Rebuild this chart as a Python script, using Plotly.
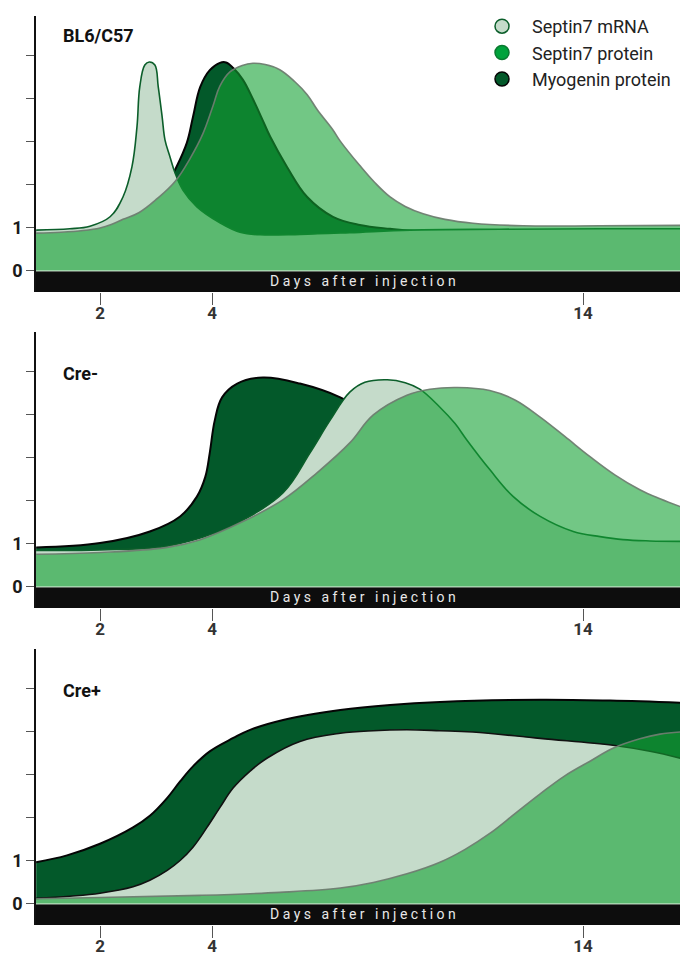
import plotly.graph_objects as go

# ---------------- data (x = timeline position, labelled 2, 4, 14 days) ----------------
tick_pos = [2, 4, 10.625]
tick_text = ["2", "4", "14"]
y_tick_vals = [0, 1, 2, 3, 4, 5]
y_tick_text = ["0", "1", "", "", "", ""]

panel_names = ["BL6/C57", "Cre-", "Cre+"]
series_names = ["Septin7 mRNA", "Septin7 protein", "Myogenin protein"]

# Panel 1: BL6/C57
p1_mrna_x = [0.86, 1.46, 1.82, 2.18, 2.41, 2.57, 2.66, 2.71, 2.80, 2.88, 2.98, 3.04, 3.11, 3.16,
             3.25, 3.34, 3.48, 3.73, 4.14, 4.50, 4.86, 5.57, 6.46, 7.54, 9.14, 10.93, 12.36]
p1_mrna_y = [0.95, 0.98, 1.04, 1.26, 1.72, 2.42, 3.35, 4.28, 4.79, 4.86, 4.79, 4.28, 3.58, 3.05,
             2.65, 2.28, 1.88, 1.49, 1.12, 0.9, 0.84, 0.85, 0.89, 0.95, 0.97, 0.98, 0.98]
p1_myo_x = [0.86, 1.64, 2.36, 2.89, 3.16, 3.34, 3.55, 3.66, 3.79, 3.96, 4.14, 4.25, 4.38, 4.55,
            4.73, 4.89, 5.04, 5.34, 5.70, 6.16, 6.64, 7.18, 7.54, 9.14, 12.36]
p1_myo_y = [0.93, 0.95, 1.1, 1.5, 1.9, 2.35, 2.98, 3.58, 4.28, 4.67, 4.84, 4.85, 4.72, 4.45,
            4.0, 3.55, 3.12, 2.42, 1.72, 1.26, 1.07, 0.98, 0.94, 0.92, 0.92]
p1_prot_x = [0.86, 1.30, 1.70, 2.0, 2.20, 2.41, 2.70, 3.02, 3.34, 3.61, 3.84, 4.02, 4.14, 4.32,
             4.54, 4.73, 4.95, 5.21, 5.48, 5.70, 5.88, 6.16, 6.29, 6.64, 6.91, 7.18, 7.45, 7.77,
             8.16, 8.66, 9.55, 10.93, 12.36]
p1_prot_y = [0.88, 0.9, 0.94, 1.0, 1.08, 1.2, 1.36, 1.68, 2.08, 2.62, 3.2, 3.85, 4.3, 4.63,
             4.78, 4.83, 4.8, 4.68, 4.4, 4.1, 3.75, 3.28, 3.02, 2.45, 2.05, 1.72, 1.5, 1.33,
             1.2, 1.11, 1.05, 1.05, 1.06]

# Panel 2: Cre-
p2_mrna_x = [0.86, 2.0, 3.20, 4.09, 4.55, 5.27, 5.75, 6.11, 6.46, 6.73, 7.13, 7.45, 7.71, 8.07,
             8.34, 8.55, 8.96, 9.38, 9.86, 10.45, 10.93, 11.34, 11.82, 12.36]
p2_mrna_y = [0.85, 0.86, 0.95, 1.27, 1.55, 2.19, 3.12, 3.88, 4.53, 4.76, 4.82, 4.75, 4.6, 4.18,
             3.8, 3.42, 2.73, 2.1, 1.64, 1.29, 1.17, 1.1, 1.07, 1.06]
p2_myo_x = [0.86, 2.0, 2.89, 3.43, 3.73, 3.88, 3.96, 4.05, 4.18, 4.45, 4.91, 5.57, 6.29, 6.82,
            7.36, 8.07, 8.79, 9.68, 10.93, 12.36]
p2_myo_y = [0.92, 1.02, 1.29, 1.64, 2.1, 2.56, 3.12, 3.88, 4.41, 4.73, 4.87, 4.73, 4.41, 4.0,
            3.4, 2.6, 1.9, 1.4, 1.05, 0.95]
p2_prot_x = [0.86, 2.0, 3.20, 3.79, 4.55, 5.27, 5.88, 6.46, 6.88, 7.48, 7.89, 8.38, 8.96, 9.41,
             9.86, 10.30, 10.75, 11.20, 11.64, 12.0, 12.36]
p2_prot_y = [0.76, 0.8, 0.92, 1.1, 1.52, 2.03, 2.66, 3.35, 4.0, 4.46, 4.6, 4.64, 4.57, 4.35,
             3.95, 3.5, 3.03, 2.6, 2.26, 2.05, 1.87]

# Panel 3: Cre+
p3_mrna_x = [0.86, 1.46, 2.0, 2.59, 2.89, 3.20, 3.43, 3.66, 3.91, 4.14, 4.38, 4.68, 4.98, 5.57,
             6.29, 6.88, 7.48, 8.07, 8.66, 9.86, 11.16, 11.82, 12.36]
p3_mrna_y = [0.13, 0.18, 0.25, 0.4, 0.55, 0.78, 1.01, 1.32, 1.78, 2.24, 2.7, 3.09, 3.39, 3.78,
             3.97, 4.03, 4.05, 4.03, 4.0, 3.85, 3.69, 3.55, 3.39]
p3_myo_x = [0.86, 1.41, 2.0, 2.59, 2.89, 3.19, 3.43, 3.66, 3.96, 4.38, 4.68, 5.27, 6.29, 7.18,
            8.07, 9.86, 11.11, 12.36]
p3_myo_y = [0.97, 1.13, 1.4, 1.78, 2.05, 2.45, 2.85, 3.2, 3.55, 3.86, 4.05, 4.28, 4.51, 4.63,
            4.7, 4.75, 4.73, 4.68]
p3_prot_x = [0.86, 2.0, 3.79, 5.21, 6.29, 6.88, 7.48, 8.07, 8.52, 8.96, 9.41, 9.86, 10.30, 10.75,
             11.16, 11.64, 12.0, 12.36]
p3_prot_y = [0.12, 0.15, 0.2, 0.27, 0.37, 0.5, 0.7, 0.97, 1.27, 1.64, 2.1, 2.56, 2.98, 3.32,
             3.62, 3.84, 3.95, 4.0]

# ---------------- styling ----------------
FONT = "Roboto"
MYO_FILL = "#03592a"
MRNA_FILL = "#c5dbca"
PROT_FILL = "rgba(20,162,52,0.6)"
PROT_LINE = "rgba(110,125,112,0.95)"
mrna_line_colors = ["#0b5e2a", "#0b5e2a", "#111111"]
SMOOTH = 1.1

panels = [
    (p1_myo_x, p1_myo_y, p1_mrna_x, p1_mrna_y, p1_prot_x, p1_prot_y),
    (p2_myo_x, p2_myo_y, p2_mrna_x, p2_mrna_y, p2_prot_x, p2_prot_y),
    (p3_myo_x, p3_myo_y, p3_mrna_x, p3_mrna_y, p3_prot_x, p3_prot_y),
]

W, H = 680, 956
L = 36
# pixel extents of each panel (top of axis line, bottom of black bar)
panel_px = [(16, 292), (332, 608), (649, 925)]
label_px = [35, 373, 690]

fig = go.Figure()

for i, (mx, my, rx, ry, px_, py_) in enumerate(panels):
    sfx = "" if i == 0 else str(i + 1)
    xa, ya = "x" + sfx, "y" + sfx
    common = dict(mode="lines", fill="tozeroy", xaxis=xa, yaxis=ya,
                  showlegend=False, hoverinfo="skip")
    fig.add_trace(go.Scatter(x=mx, y=my, fillcolor=MYO_FILL,
                             line=dict(color="#050505", width=2, shape="spline", smoothing=SMOOTH),
                             **common))
    fig.add_trace(go.Scatter(x=rx, y=ry, fillcolor=MRNA_FILL,
                             line=dict(color=mrna_line_colors[i], width=1.6, shape="spline",
                                       smoothing=SMOOTH),
                             **common))
    fig.add_trace(go.Scatter(x=px_, y=py_, fillcolor=PROT_FILL,
                             line=dict(color=PROT_LINE, width=1.6, shape="spline", smoothing=SMOOTH),
                             **common))

# legend entries
legend_styles = [(MRNA_FILL, "#0b5e2a"), ("#00a33c", "#0a7a30"), (MYO_FILL, "#050505")]
for k, (name, (fc, lc)) in enumerate(zip(series_names, legend_styles)):
    fig.add_trace(go.Scatter(x=[None], y=[None], mode="markers", name=name,
                             marker=dict(symbol="circle", size=14, color=fc,
                                         line=dict(color=lc, width=1.5))))

shapes = []
annotations = []
for i in range(3):
    sfx = "" if i == 0 else str(i + 1)
    top, bot = panel_px[i]
    dom = [1 - bot / H, 1 - top / H]
    fig.layout["xaxis" + sfx] = dict(
        domain=[0, 1], anchor="y" + sfx, range=[0.857, 12.357], automargin=False,
        tickvals=tick_pos, ticktext=tick_text, ticks="outside", ticklen=12,
        ticklabelstandoff=-6,
        tickwidth=1, tickcolor="#555", showline=False, showgrid=False, zeroline=False,
        tickfont=dict(family=FONT, size=17, color="#333", weight="bold"), fixedrange=True)
    fig.layout["yaxis" + sfx] = dict(
        domain=dom, anchor="x" + sfx, range=[-0.49, 5.93], automargin=False,
        tickvals=y_tick_vals, ticktext=y_tick_text, ticks="outside", ticklen=8,
        tickwidth=1, tickcolor="#555", showline=True, linecolor="#111", linewidth=1.5,
        showgrid=False, zeroline=False,
        tickfont=dict(family=FONT, size=18, color="#1a1a1a", weight="bold"), fixedrange=True)
    shapes.append(dict(type="rect", xref="x" + sfx + " domain", yref="y" + sfx,
                       x0=0, x1=1, y0=-0.49, y1=0, fillcolor="#0d0d0d",
                       line=dict(width=0), layer="above"))
    shapes.append(dict(type="line", xref="x" + sfx + " domain", yref="y" + sfx,
                       x0=0, x1=1, y0=0, y1=0, line=dict(color="#d6ecd8", width=1),
                       layer="above"))
    spaced = "\u00a0\u00a0\u00a0".join("\u00a0".join(w) for w in "Days after injection".split())
    annotations.append(dict(text=spaced, xref="x" + sfx + " domain", yref="y" + sfx,
                            x=0.507, y=-0.245, showarrow=False, xanchor="center", yanchor="middle",
                            font=dict(family=FONT, size=14, color="#e8e8e8")))
    annotations.append(dict(text="<b>" + panel_names[i] + "</b>", xref="paper", yref="paper",
                            x=(61 - L) / (W - L), y=1 - label_px[i] / H, xanchor="left",
                            yanchor="middle", showarrow=False,
                            font=dict(family=FONT, size=18, color="#111")))

fig.update_layout(
    width=W, height=H,
    margin=dict(l=L, r=0, t=0, b=0, autoexpand=False),
    paper_bgcolor="white", plot_bgcolor="white",
    shapes=shapes, annotations=annotations,
    legend=dict(x=(472 - L) / (W - L), y=1 - 8 / H, xanchor="left", yanchor="top",
                font=dict(family=FONT, size=18, color="#222"), itemwidth=50,
                bgcolor="rgba(0,0,0,0)", itemsizing="trace"),
    font=dict(family=FONT),
    showlegend=True,
)

fig.write_html("out.html", config={"displayModeBar": False},
               post_script="document.body.style.margin='0';")
